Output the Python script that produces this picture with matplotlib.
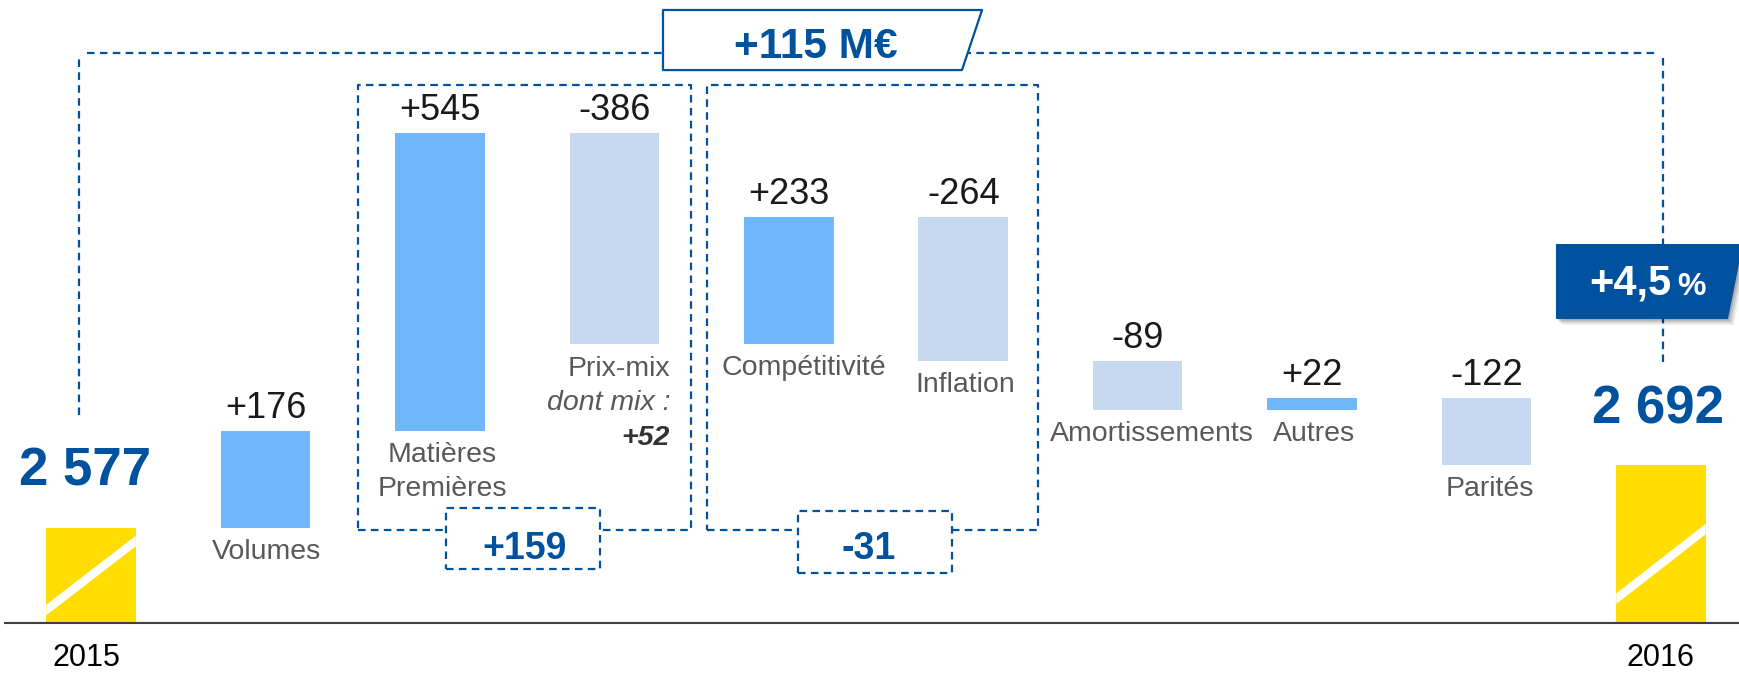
import matplotlib
matplotlib.use("Agg")
import matplotlib.pyplot as plt
from matplotlib.patches import Polygon, Rectangle

# ---------------- data ----------------
categories = ["2015", "Volumes", "Matières\nPremières", "Prix-mix", "Compétitivité",
              "Inflation", "Amortissements", "Autres", "Parités", "2016"]
start_total = 2577
deltas = [176, 545, -386, 233, -264, -89, 22, -122]
end_total = 2692
value_labels = ["+176", "+545", "-386", "+233", "-264", "-89", "+22", "-122"]
total_labels = ["2 577", "2 692"]
group_labels = ["+159", "-31"]
headline = "+115 M€"
growth_value = "+4,5"
growth_unit = "%"
mix_note = ["dont mix :", "+52"]

# ---------------- style ----------------
FONT = "Liberation Sans"
plt.rcParams["font.family"] = [FONT, "DejaVu Sans"]
BLUE = "#00529F"
POS = "#70B8FE"
NEG = "#C6D9F0"
YELLOW = "#FFDD00"
GREY = "#595959"
BLACK = "#1A1A1A"
PX_PER_UNIT = 0.5466      # vertical pixels per M€
FLOOR = 2401.7            # value where the axis line sits
W = 0.513                 # bar width (category units)

fig = plt.figure(figsize=(17.4, 6.74), dpi=100)
ax = fig.add_axes([0, 0, 1, 1])
ax.set_xlim(-0.5217, 9.453)
ax.set_ylim(2309, 3542.1)
ax.axis("off")

n = len(categories)
x = list(range(n))

# waterfall geometry
bottoms, tops = [], []
level = start_total
for d in deltas:
    new = level + d
    bottoms.append(min(level, new))
    tops.append(max(level, new))
    level = new

# total bars
for i, tot in ((0, start_total), (n - 1, end_total)):
    ax.bar(i, tot - FLOOR, bottom=FLOOR, width=W, color=YELLOW, zorder=2)

# stripes on truncated totals (pixel heights above floor, left/right)
for i, (hl, hr) in ((0, (13.3, 82.3)), (n - 1, (24.6, 94.3))):
    th = 5.3 / PX_PER_UNIT
    yl = FLOOR + hl / PX_PER_UNIT
    yr = FLOOR + hr / PX_PER_UNIT
    xl, xr = i - W / 2, i + W / 2
    ax.add_patch(Polygon([(xl, yl - th), (xr, yr - th), (xr, yr + th), (xl, yl + th)],
                         closed=True, fc="white", ec="none", zorder=3))

# delta bars
for k, d in enumerate(deltas):
    i = k + 1
    ax.bar(i, tops[k] - bottoms[k], bottom=bottoms[k], width=W,
           color=POS if d > 0 else NEG, zorder=2)
    ax.annotate(value_labels[k], xy=(i, tops[k]), xytext=(0, 13),
                textcoords="offset pixels", ha="center", va="baseline",
                fontsize=26, color=BLACK)

# category labels under bars
label_dx = {1: 1.5, 2: 2, 4: 15, 5: 2.5, 6: 14.5, 7: 2, 8: 3}
for k in range(len(deltas)):
    i = k + 1
    if i == 3:
        continue
    lines = categories[i].split("\n")
    for j, line in enumerate(lines):
        ax.annotate(line, xy=(i, bottoms[k]), xytext=(label_dx.get(i, 0), -31 - 34 * j),
                    textcoords="offset pixels", ha="center", va="baseline",
                    fontsize=20.5, color=GREY)

# Prix-mix label (right aligned)
k = 2
ax.annotate(categories[3], xy=(3 + W / 2, bottoms[k]), xytext=(11, -32),
            textcoords="offset pixels", ha="right", va="baseline", fontsize=20.5, color=GREY)
ax.annotate(mix_note[0], xy=(3 + W / 2, bottoms[k]), xytext=(11, -66),
            textcoords="offset pixels", ha="right", va="baseline", fontsize=20.5,
            color=GREY, style="italic")
ax.annotate(mix_note[1], xy=(3 + W / 2, bottoms[k]), xytext=(11, -101),
            textcoords="offset pixels", ha="right", va="baseline", fontsize=20.5,
            color="#333333", style="italic", weight="bold")

# totals labels
ax.annotate(total_labels[0], xy=(0, start_total), xytext=(-5.5, 42), textcoords="offset pixels",
            ha="center", va="baseline", fontsize=38, weight="bold", color=BLUE)
ax.annotate(total_labels[1], xy=(n - 1, end_total), xytext=(-3, 41), textcoords="offset pixels",
            ha="center", va="baseline", fontsize=38, weight="bold", color=BLUE)

# year labels
for i, dx in ((0, -5), (n - 1, 0)):
    ax.annotate(categories[i], xy=(i, FLOOR), xytext=(dx, -43), textcoords="offset pixels",
                ha="center", va="baseline", fontsize=22, color="black")

# axis line
ax.plot([-0.499, 9.453], [FLOOR, FLOOR], color="#404040", lw=1.5, zorder=4,
        solid_capstyle="butt")

# ---------------- decorations ----------------
DASH = dict(color=BLUE, lw=1.6, dashes=(3.4, 2.4), zorder=1)

# overall bracket
y_top = 3445.1
ax.plot([-0.0688, -0.0688], [2782.8, 3436.0], **DASH)
ax.plot([-0.023, 8.983], [y_top, y_top], **DASH)
ax.plot([9.012, 9.012], [3436.0, 2879.8], **DASH)

# group boxes
for (x0, x1, y0, y1) in ((1.531, 3.440, 2572.4, 3386.5), (3.534, 5.429, 2572.4, 3386.5)):
    ax.plot([x0, x1, x1, x0, x0], [y0, y0, y1, y1, y0], **DASH)

# small subtotal boxes
for (x0, x1, y0, y1), txt, tx in (((2.035, 2.918, 2501.1, 2612.7), group_labels[0], 2.486),
                                  ((4.053, 4.936, 2493.8, 2607.2), group_labels[1], 4.460)):
    ax.add_patch(Rectangle((x0, y0), x1 - x0, y1 - y0, fc="white", ec="none", zorder=5))
    ax.plot([x0, x1, x1, x0, x0], [y0, y0, y1, y1, y0], color=BLUE, lw=1.6,
            dashes=(3.4, 2.4), zorder=6)
    ax.text(tx, 2519.4, txt, ha="center", va="baseline", fontsize=27, weight="bold",
            color=BLUE, zorder=7)

# headline box
ax.add_patch(Polygon([(3.279, 3523.8), (5.108, 3523.8), (4.993, 3413.9), (3.279, 3413.9)],
                     closed=True, fc="white", ec=BLUE, lw=1.6, joinstyle="round", zorder=6))
ax.text(4.156, 3435.4, headline, ha="center", va="baseline", fontsize=30.5, weight="bold",
        color=BLUE, zorder=7)

# growth box with soft shadow
gpts = [(8.398, 3095.7), (9.47, 3095.7), (9.384, 2958.5), (8.398, 2958.5)]
for s, a in ((6, 0.06), (4.5, 0.08), (3, 0.1), (1.5, 0.12)):
    dx = s / 174.44
    dy = s / PX_PER_UNIT
    ax.add_patch(Polygon([(px + dx, py - dy) for px, py in gpts], closed=True,
                         fc="black", ec="none", alpha=a, zorder=6))
ax.add_patch(Polygon(gpts, closed=True, fc=BLUE, ec="none", zorder=7))
ax.annotate(growth_value, xy=(9.06, 3002.4), xytext=(0, 0), textcoords="offset pixels",
            ha="right", va="baseline", fontsize=30, weight="bold", color="white", zorder=8)
ax.annotate(growth_unit, xy=(9.06, 3002.4), xytext=(6, 0), textcoords="offset pixels",
            ha="left", va="baseline", fontsize=23, weight="bold", color="white", zorder=8)

fig.savefig("out.png", dpi=100, facecolor="white")
